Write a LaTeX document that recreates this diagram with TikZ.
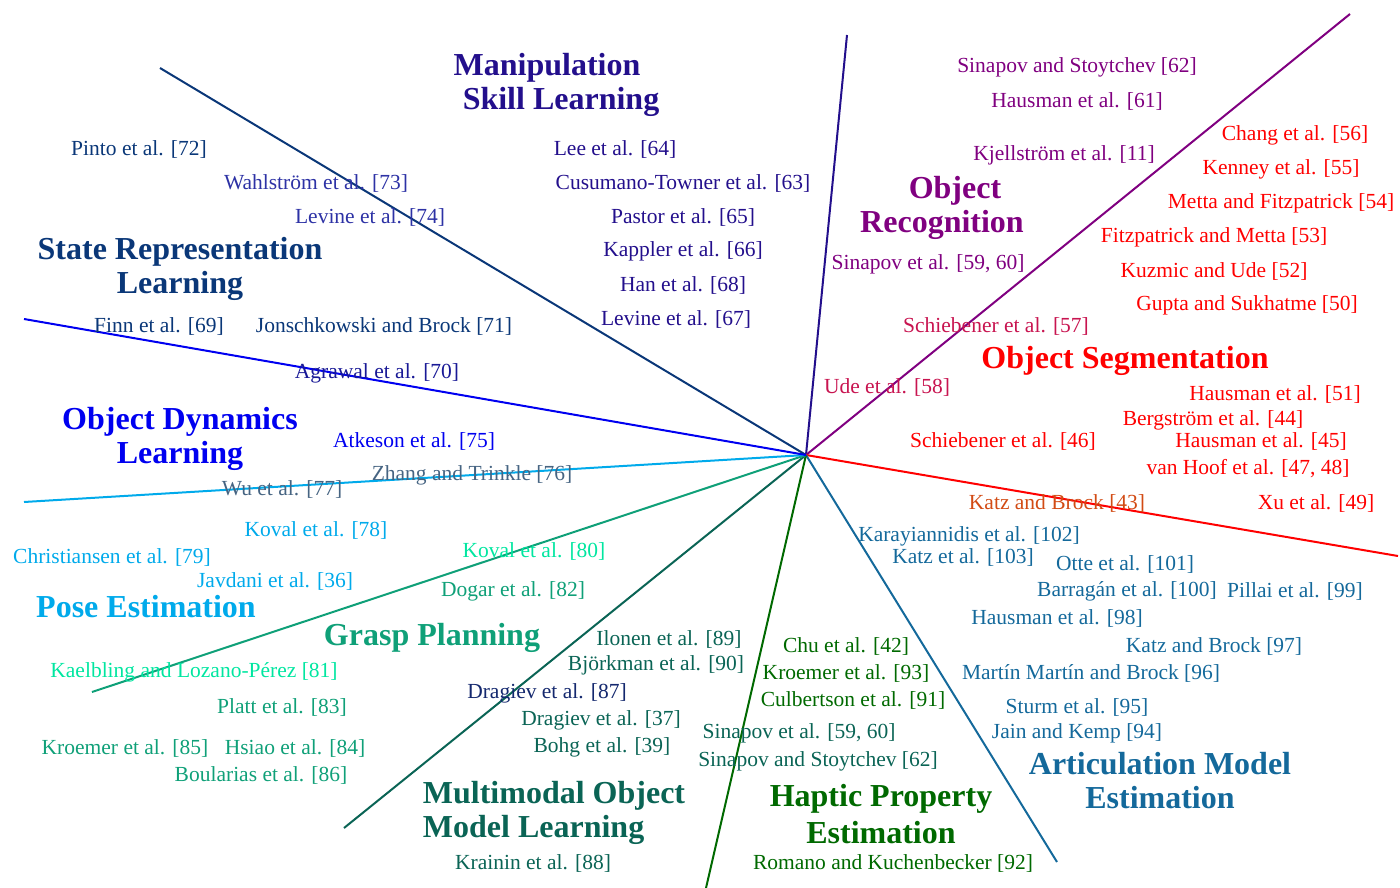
\documentclass[tikz,border=0pt]{standalone}
\usepackage{fontspec}
\setmainfont{Liberation Serif}
\definecolor{cManip}{RGB}{35,15,140}
\definecolor{cState}{RGB}{10,55,120}
\definecolor{cStateL}{RGB}{45,50,165}
\definecolor{cAgr}{RGB}{25,25,150}
\definecolor{cDyn}{RGB}{0,0,240}
\definecolor{cDynG}{RGB}{70,100,130}
\definecolor{cPose}{RGB}{0,170,235}
\definecolor{cGrasp}{RGB}{15,160,120}
\definecolor{cGraspL}{RGB}{0,230,160}
\definecolor{cMulti}{RGB}{10,100,85}
\definecolor{cDrag}{RGB}{20,40,110}
\definecolor{cHaptic}{RGB}{0,105,0}
\definecolor{cArtic}{RGB}{20,105,155}
\definecolor{cSeg}{RGB}{255,0,0}
\definecolor{cSegC}{RGB}{200,20,80}
\definecolor{cKatz}{RGB}{210,75,20}
\definecolor{cRecog}{RGB}{128,0,128}
\tikzset{
  entry/.style={inner sep=0pt,anchor=center,font=\fontsize{21.5}{25}\selectfont},
  ttl/.style={inner sep=0pt,anchor=center,align=center,font=\fontsize{32}{34}\selectfont\bfseries},
  ray/.style={line width=2pt}
}
\begin{document}
\begin{tikzpicture}[x=1pt,y=-1pt]
\useasboundingbox (0,0) rectangle (1400,888);
\coordinate (C) at (806,455);
\coordinate (e1) at (160,68);
\coordinate (e2) at (847,35);
\coordinate (e3) at (1350,14);
\coordinate (e4) at (1398,556);
\coordinate (e5) at (1057,862);
\coordinate (e6) at (706,888);
\coordinate (e7) at (344,828);
\coordinate (e8) at (92,692);
\coordinate (e9) at (24,502);
\coordinate (e10) at (24,319);
\draw[ray,cState] (C) -- (e1);
\draw[ray,cManip] (C) -- (e2);
\draw[ray,cRecog] (C) -- (e3);
\draw[ray,cSeg] (C) -- (e4);
\draw[ray,cArtic] (C) -- (e5);
\draw[ray,cHaptic] (C) -- (e6);
\draw[ray,cMulti] (C) -- (e7);
\draw[ray,cGrasp] (C) -- (e8);
\draw[ray,cPose] (C) -- (e9);
\draw[ray,cDyn] (C) -- (e10);

% Manipulation Skill Learning
\node[ttl,cManip] (tManip) at (561,85) {Manipulation\hspace*{28pt}\\Skill Learning};
\node[entry,cManip] (m64) at (615,149) {Lee et al. [64]};
\node[entry,cManip] (m63) at (683,183) {Cusumano-Towner et al. [63]};
\node[entry,cManip] (m65) at (683,217) {Pastor et al. [65]};
\node[entry,cManip] (m66) at (683,251) {Kappler et al. [66]};
\node[entry,cManip] (m68) at (683,285) {Han et al. [68]};
\node[entry,cManip] (m67) at (676,319) {Levine et al. [67]};

% State Representation Learning
\node[ttl,cState] (tState) at (180,269) {State Representation\\Learning};
\node[entry,cState] (s72) at (139,149) {Pinto et al. [72]};
\node[entry,cStateL] (s73) at (316,183) {Wahlström et al. [73]};
\node[entry,cStateL] (s74) at (370,217) {Levine et al. [74]};
\node[entry,cState] (s69) at (159,326) {Finn et al. [69]};
\node[entry,cState] (s71) at (384,326) {Jonschkowski and Brock [71]};
\node[entry,cAgr] (s70) at (377,373) {Agrawal et al. [70]};

% Object Dynamics Learning
\node[ttl,cDyn] (tDyn) at (180,439) {Object Dynamics\\Learning};
\node[entry,cDyn] (d75) at (414,441) {Atkeson et al. [75]};
\node[entry,cDynG] (d76) at (472,475) {Zhang and Trinkle [76]};
\node[entry,cDynG] (d77) at (282,489) {Wu et al. [77]};

% Pose Estimation
\node[ttl,cPose] (tPose) at (146,607) {Pose Estimation};
\node[entry,cPose] (p78) at (316,530) {Koval et al. [78]};
\node[entry,cPose] (p79) at (112,557) {Christiansen et al. [79]};
\node[entry,cPose] (p36) at (275,581) {Javdani et al. [36]};

% Grasp Planning
\node[ttl,cGrasp] (tGrasp) at (432,638) {Grasp Planning};
\node[entry,cGraspL] (g80) at (534,551) {Koval et al. [80]};
\node[entry,cGrasp] (g82) at (513,591) {Dogar et al. [82]};
\node[entry,cGraspL] (g81) at (194,672) {Kaelbling and Lozano-Pérez [81]};
\node[entry,cGrasp] (g83) at (282,707) {Platt et al. [83]};
\node[entry,cGrasp] (g85) at (125,748) {Kroemer et al. [85]};
\node[entry,cGrasp] (g84) at (295,748) {Hsiao et al. [84]};
\node[entry,cGrasp] (g86) at (261,775) {Boularias et al. [86]};

% Multimodal Object Model Learning
\node[ttl,cMulti,align=left] (tMulti) at (554,813) {Multimodal Object\\Model Learning};
\node[entry,cMulti] (u89) at (669,639) {Ilonen et al. [89]};
\node[entry,cMulti] (u90) at (656,665) {Björkman et al. [90]};
\node[entry,cDrag] (u87) at (547,693) {Dragiev et al. [87]};
\node[entry,cMulti] (u37) at (601,720) {Dragiev et al. [37]};
\node[entry,cMulti] (u39) at (602,747) {Bohg et al. [39]};
\node[entry,cMulti] (u88) at (533,863) {Krainin et al. [88]};
\node[entry,cMulti] (u59) at (799,733) {Sinapov et al. [59, 60]};
\node[entry,cMulti] (u62) at (818,761) {Sinapov and Stoytchev [62]};

% Haptic Property Estimation
\node[ttl,cHaptic,font=\fontsize{32}{37}\selectfont\bfseries] (tHaptic) at (881,814) {Haptic Property\\Estimation};
\node[entry,cHaptic] (h42) at (846,646) {Chu et al. [42]};
\node[entry,cHaptic] (h93) at (846,673) {Kroemer et al. [93]};
\node[entry,cHaptic] (h91) at (853,700) {Culbertson et al. [91]};
\node[entry,cHaptic] (h92) at (893,863) {Romano and Kuchenbecker [92]};

% Articulation Model Estimation
\node[ttl,cArtic] (tArtic) at (1160,781) {Articulation Model\\Estimation};
\node[entry,cArtic] (a102) at (969,536) {Karayiannidis et al. [102]};
\node[entry,cArtic] (a103) at (963,557) {Katz et al. [103]};
\node[entry,cArtic] (a101) at (1125,564) {Otte et al. [101]};
\node[entry,cArtic] (a100) at (1127,591) {Barragán et al. [100]};
\node[entry,cArtic] (a99) at (1295,591) {Pillai et al. [99]};
\node[entry,cArtic] (a98) at (1057,618) {Hausman et al. [98]};
\node[entry,cArtic] (a97) at (1214,646) {Katz and Brock [97]};
\node[entry,cArtic] (a96) at (1091,673) {Martín Martín and Brock [96]};
\node[entry,cArtic] (a95) at (1077,707) {Sturm et al. [95]};
\node[entry,cArtic] (a94) at (1077,733) {Jain and Kemp [94]};

% Object Segmentation
\node[ttl,cSeg] (tSeg) at (1125,361) {Object Segmentation};
\node[entry,cSeg] (o56) at (1295,135) {Chang et al. [56]};
\node[entry,cSeg] (o55) at (1281,169) {Kenney et al. [55]};
\node[entry,cSeg] (o54) at (1281,203) {Metta and Fitzpatrick [54]};
\node[entry,cSeg] (o53) at (1214,237) {Fitzpatrick and Metta [53]};
\node[entry,cSeg] (o52) at (1214,271) {Kuzmic and Ude [52]};
\node[entry,cSeg] (o50) at (1247,305) {Gupta and Sukhatme [50]};
\node[entry,cSegC] (o57) at (996,326) {Schiebener et al. [57]};
\node[entry,cSegC] (o58) at (887,387) {Ude et al. [58]};
\node[entry,cSeg] (o51) at (1275,394) {Hausman et al. [51]};
\node[entry,cSeg] (o44) at (1213,420) {Bergström et al. [44]};
\node[entry,cSeg] (o46) at (1003,441) {Schiebener et al. [46]};
\node[entry,cSeg] (o45) at (1261,441) {Hausman et al. [45]};
\node[entry,cSeg] (o47) at (1248,469) {van Hoof et al. [47, 48]};
\node[entry,cKatz] (o43) at (1057,503) {Katz and Brock [43]};
\node[entry,cSeg] (o49) at (1316,503) {Xu et al. [49]};

% Object Recognition
\node[ttl,cRecog] (tRecog) at (942,208) {\hspace*{26pt}Object\\Recognition};
\node[entry,cRecog] (r62) at (1077,67) {Sinapov and Stoytchev [62]};
\node[entry,cRecog] (r61) at (1077,101) {Hausman et al. [61]};
\node[entry,cRecog] (r11) at (1064,155) {Kjellström et al. [11]};
\node[entry,cRecog] (r59) at (928,264) {Sinapov et al. [59, 60]};
\end{tikzpicture}
\end{document}
